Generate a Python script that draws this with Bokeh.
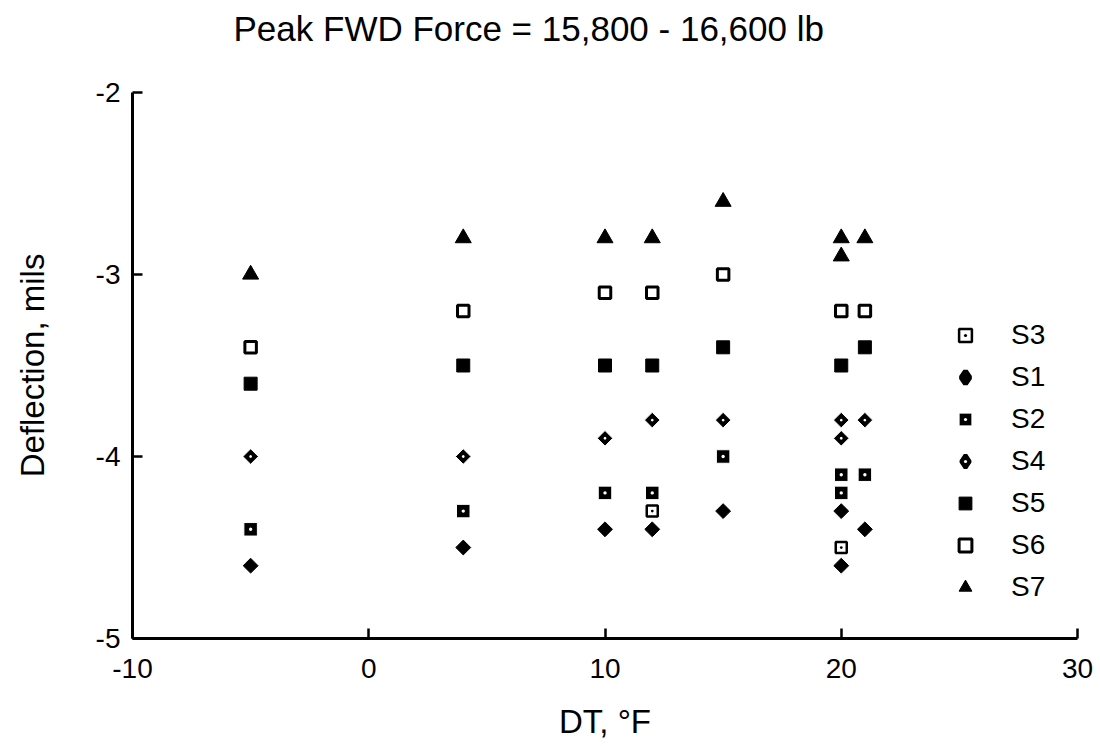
import math
from bokeh.plotting import figure
from bokeh.models import Legend, LegendItem, Range1d, FixedTicker, LinearAxis
from bokeh.embed import file_html
from bokeh.resources import INLINE

title_text = "Peak FWD Force = 15,800 - 16,600 lb"
x_label = "DT, °F"
y_label = "Deflection, mils"
x_ticks = [-10, 0, 10, 20, 30]
y_ticks = [-5, -4, -3, -2]

s1_x = [-5, 4, 10, 12, 15, 20, 20, 21]
s1_y = [-4.6, -4.5, -4.4, -4.4, -4.3, -4.3, -4.6, -4.4]
s2_x = [-5, 4, 10, 12, 15, 20, 20, 21]
s2_y = [-4.4, -4.3, -4.2, -4.2, -4.0, -4.1, -4.2, -4.1]
s3_x = [12, 20]
s3_y = [-4.3, -4.5]
s4_x = [-5, 4, 10, 12, 15, 20, 20, 21]
s4_y = [-4.0, -4.0, -3.9, -3.8, -3.8, -3.8, -3.9, -3.8]
s5_x = [-5, 4, 10, 12, 15, 20, 21]
s5_y = [-3.6, -3.5, -3.5, -3.5, -3.4, -3.5, -3.4]
s6_x = [-5, 4, 10, 12, 15, 20, 21]
s6_y = [-3.4, -3.2, -3.1, -3.1, -3.0, -3.2, -3.2]
s7_x = [-5, 4, 10, 12, 15, 20, 20, 21]
s7_y = [-3.0, -2.8, -2.8, -2.8, -2.6, -2.8, -2.9, -2.8]

FONT = "Liberation Sans"
NAN = float("nan")

p = figure(width=1100, height=746, output_backend="svg", toolbar_location=None,
           x_range=Range1d(-10, 30), y_range=Range1d(-5, -2),
           min_border_left=132, min_border_right=23, min_border_top=92, min_border_bottom=108)
p.background_fill_color = "white"
p.border_fill_color = "white"
p.outline_line_color = None
p.xgrid.visible = False
p.ygrid.visible = False

xax = p.below[0]
yax = p.left[0]

for ax, ticks in ((xax, x_ticks), (yax, y_ticks)):
    ax.ticker = FixedTicker(ticks=ticks)
    ax.major_label_overrides = {t: str(t) for t in ticks}
    ax.minor_tick_line_color = None
    ax.major_tick_in = 10
    ax.major_tick_out = 0
    ax.major_tick_line_width = 2.5
    ax.major_tick_line_color = "black"
    ax.axis_line_width = 3
    ax.axis_line_color = "black"
    ax.major_label_text_font = FONT
    ax.major_label_text_font_size = "28px"
    ax.major_label_text_color = "black"
    ax.axis_label_text_font = FONT
    ax.axis_label_text_font_size = "33px"
    ax.axis_label_text_font_style = "normal"
    ax.axis_label_text_color = "black"

xax.axis_label = x_label
yax.axis_label = y_label
xax.major_label_standoff = 20
xax.axis_label_standoff = 22
yax.major_label_standoff = 12
yax.axis_label_standoff = 42

# invisible spacer axis above the frame (one white tick, no label text),
# so that the title sits higher above the plot area
spacer = LinearAxis(ticker=FixedTicker(ticks=[x_ticks[0]]), axis_line_color="white",
                    major_tick_line_color="white", minor_tick_line_color="white",
                    major_tick_in=0, major_tick_out=45, minor_tick_in=0, minor_tick_out=0,
                    major_label_standoff=0, major_label_text_font_size="0px",
                    major_label_text_color="white", major_label_overrides={x_ticks[0]: ""})
p.add_layout(spacer, "above")

p.title.text = title_text
p.title.align = "left"
p.title.offset = 101
p.title.text_font = FONT
p.title.text_font_size = "35px"
p.title.text_font_style = "normal"
p.title.text_color = "black"
p.title.standoff = 0

diam = math.pi / 4
r3 = p.scatter(s3_x, s3_y, marker="square_dot", size=11, fill_color="white", line_color="black", line_width=2.5)
r1 = p.scatter(s1_x, s1_y, marker="square", angle=diam, size=10.5, fill_color="black", line_color="black")
r2 = p.scatter(s2_x, s2_y, marker="square_dot", size=13.5, fill_color="black", line_color="white", line_width=1)
r4 = p.scatter(s4_x, s4_y, marker="square_dot", angle=diam, size=11, fill_color="black", line_color="white", line_width=1)
r5 = p.scatter(s5_x, s5_y, marker="square", size=13, fill_color="black", line_color="black")
r6 = p.scatter(s6_x, s6_y, marker="square", size=11.5, fill_color="white", line_color="black", line_width=3)
r7 = p.scatter(s7_x, s7_y, marker="triangle", size=16, fill_color="black", line_color="black")

# legend swatches for the diamond-shaped series (legend glyphs are drawn unrotated);
# their single point is NaN so nothing is drawn inside the plot
k1 = p.scatter([NAN], [NAN], marker="diamond", fill_color="black", line_color="black", line_width=5)
k4 = p.scatter([NAN], [NAN], marker="diamond", fill_color="black", line_color="black", line_width=4)
k4d = p.scatter([NAN], [NAN], marker="dot", line_color="white", fill_color="white")

legend = Legend(items=[
    LegendItem(label="S3", renderers=[r3]),
    LegendItem(label="S1", renderers=[k1]),
    LegendItem(label="S2", renderers=[r2]),
    LegendItem(label="S4", renderers=[k4, k4d]),
    LegendItem(label="S5", renderers=[r5]),
    LegendItem(label="S6", renderers=[r6]),
    LegendItem(label="S7", renderers=[r7]),
], location=(817, 35))
legend.border_line_color = None
legend.background_fill_alpha = 0
legend.padding = 0
legend.margin = 0
legend.glyph_width = 32
legend.glyph_height = 32
legend.label_height = 32
legend.spacing = 10
legend.label_standoff = 30
legend.label_text_font = FONT
legend.label_text_font_size = "28px"
legend.label_text_color = "black"
p.add_layout(legend)

open("out.html", "w").write(file_html(p, INLINE))
